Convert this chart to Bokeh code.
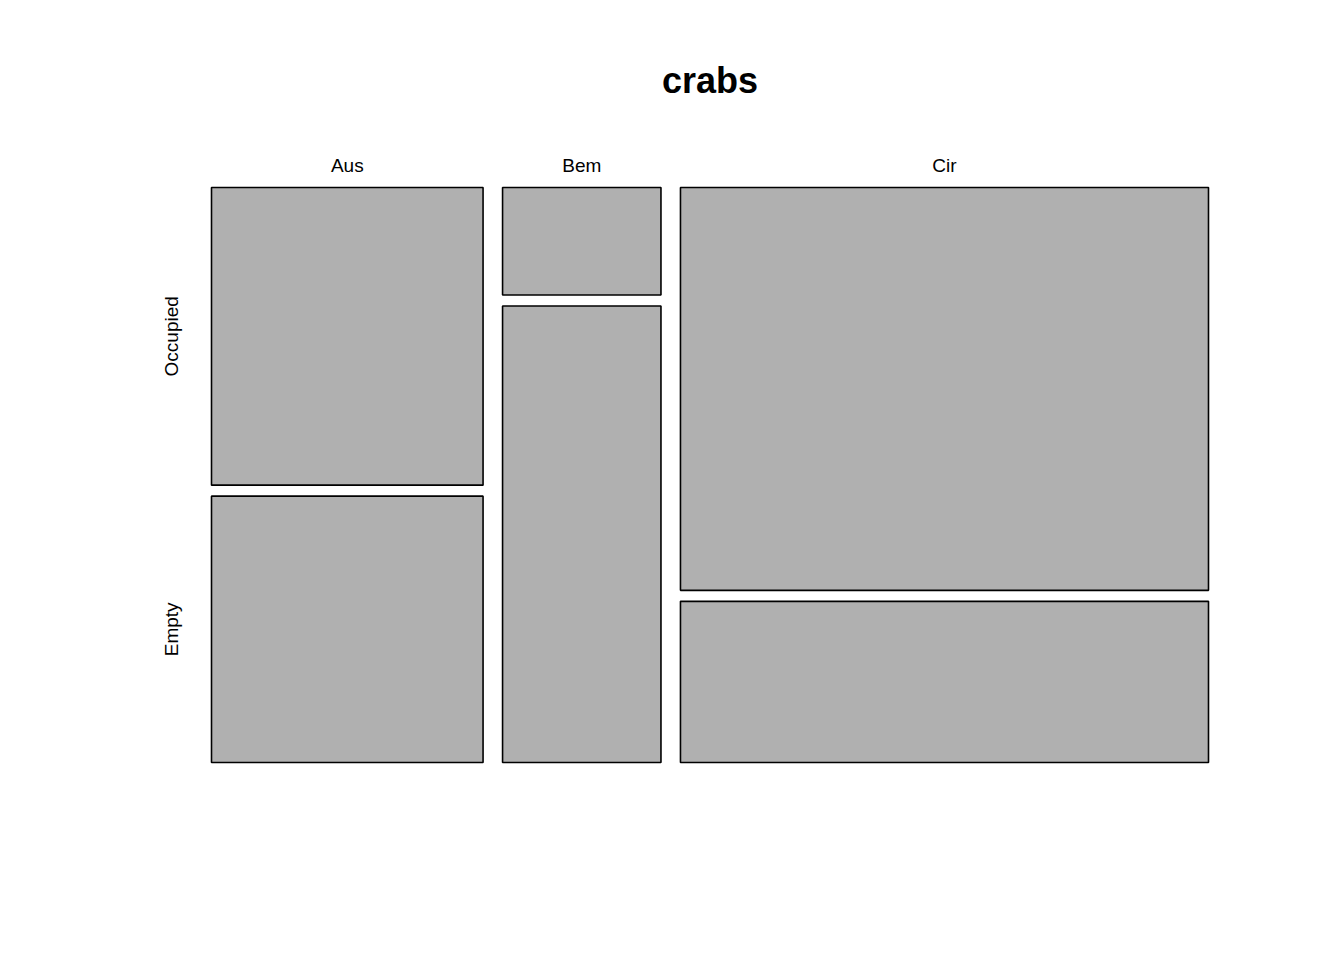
import math
from bokeh.plotting import figure
from bokeh.models import ColumnDataSource
from bokeh.core.properties import value
from bokeh.embed import file_html
from bokeh.resources import INLINE

# Data (counts read from the mosaic)
species = ["Aus", "Bem", "Cir"]
occupied = [19, 4, 50]
empty = [17, 17, 20]
row_labels = ["Occupied", "Empty"]
title_text = "crabs"

W, H = 1344, 960
# layout of mosaic region (screen px)
left_px, right_px, top_px, bottom_px = 211, 1208, 187, 762
mw = right_px - left_px
mh = bottom_px - top_px
gx = 19.5 / mw   # gap between columns (fraction of mosaic width)
gy = 11.0 / mh   # gap between rows

p = figure(width=W, height=H, output_backend="svg", toolbar_location=None,
           x_range=(-left_px / mw, (W - left_px) / mw),
           y_range=(-(H - bottom_px) / mh, 1 + top_px / mh),
           min_border=0, min_border_left=0, min_border_right=0,
           min_border_top=0, min_border_bottom=0)
p.axis.visible = False
p.xgrid.visible = False
p.ygrid.visible = False
p.outline_line_color = None
p.background_fill_color = "white"
p.border_fill_color = "white"

totals = [o + e for o, e in zip(occupied, empty)]
N = sum(totals)
avail_x = 1 - gx * (len(species) - 1)
avail_y = 1 - gy

L, R, B, T = [], [], [], []
col_centers = []
row_centers = []
x = 0.0
for i, s in enumerate(species):
    w = totals[i] / N * avail_x
    fo = occupied[i] / totals[i]
    ho = fo * avail_y
    he = avail_y - ho
    # occupied on top
    L.append(x); R.append(x + w); B.append(1 - ho); T.append(1.0)
    # empty at bottom
    L.append(x); R.append(x + w); B.append(0.0); T.append(he)
    col_centers.append(x + w / 2)
    if i == 0:
        row_centers = [1 - ho / 2, he / 2]
    x += w + gx

src = ColumnDataSource(dict(left=L, right=R, bottom=B, top=T))
p.quad(left="left", right="right", bottom="bottom", top="top", source=src,
       fill_color="#B0B0B0", line_color="black", line_width=1.6)

# column labels
p.text(x=col_centers, y=[1.0] * len(species), text=species,
       text_font=value("Liberation Sans"), text_font_size="19px",
       text_align="center", text_baseline="alphabetic", y_offset=-22,
       text_color="black")

# row labels
p.text(x=[0.0, 0.0], y=row_centers, text=row_labels, angle=math.pi / 2,
       text_font=value("Liberation Sans"), text_font_size="19px",
       text_align="center", text_baseline="alphabetic", x_offset=-40.5,
       text_color="black")

# title
p.text(x=[0.5], y=[1.0], text=[title_text],
       text_font=value("Liberation Sans"), text_font_size="36px",
       text_font_style="bold", text_align="center", text_baseline="alphabetic",
       y_offset=-107, text_color="black")

open("out.html", "w").write(file_html(p, INLINE))
